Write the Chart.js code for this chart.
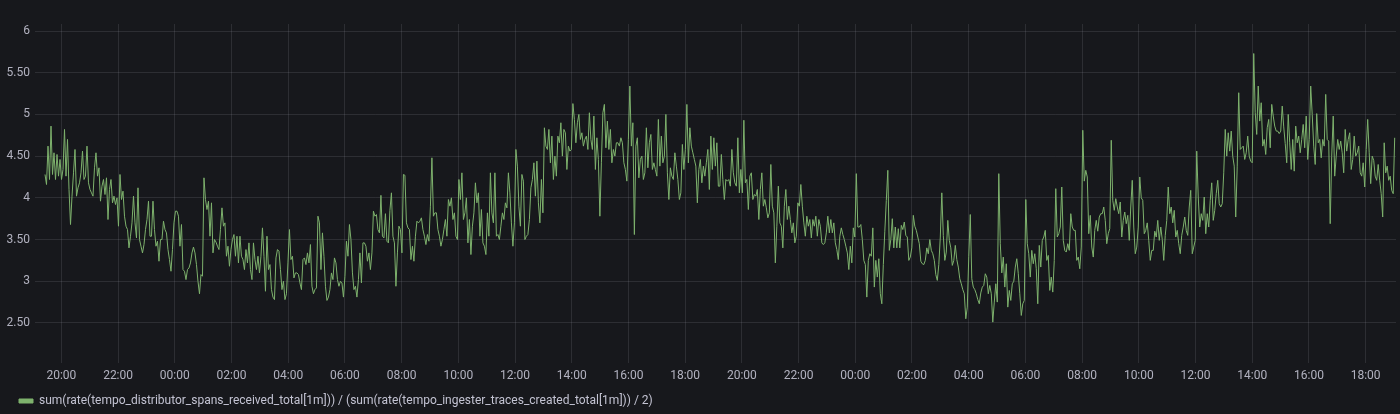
<!DOCTYPE html>
<html>
<head>
<meta charset="utf-8">
<script src="https://cdn.jsdelivr.net/npm/chart.js@4/dist/chart.umd.min.js"></script>
<style>
html,body{margin:0;padding:0;background:#17181c;}
#wrap{width:1400px;height:414px;position:relative;}
canvas{display:block;}
</style>
</head>
<body>
<div id="wrap"><canvas id="c" width="1400" height="414"></canvas></div>
<script>
// ---- data ----
const seriesLabel = 'sum(rate(tempo_distributor_spans_received_total[1m])) / (sum(rate(tempo_ingester_traces_created_total[1m])) / 2)';
// time axis in hours relative to 20:00 of the first day
const startHour = -0.577;
const stepHours = 0.05289;
const ratioValues = [
4.28,4.16,4.62,4.22,4.86,4.28,4.54,4.22,4.52,4.26,4.46,4.22,4.34,4.82,4.26,4.7,4.10,3.68,4.02,4.3,
4.58,4.02,4.12,4.18,4.3,4.56,4.22,4.26,4.62,4.18,4.1,4.06,4.02,4.36,4.54,4.26,4.36,3.96,4.14,
4.22,4.04,4.24,3.74,4.1,4.22,3.94,4.02,3.92,4.0,3.66,4.28,3.98,4.08,3.78,3.66,3.62,3.4,
3.54,3.7,4.02,3.7,3.52,4.12,3.5,3.42,3.34,3.44,3.62,3.74,3.96,3.54,3.54,3.96,3.62,3.42,3.48,
3.24,3.5,3.5,3.72,3.62,3.58,3.38,3.26,3.12,3.38,3.7,3.84,3.84,3.78,
3.42,3.68,3.14,3.12,3.02,3.14,3.16,3.22,3.34,3.41,3.34,3.2,3.0,2.85,3.08,3.06,4.24,3.98,3.86,3.96,
3.54,3.94,3.34,3.5,3.47,3.42,3.38,3.62,3.88,3.66,3.7,3.3,3.42,3.18,3.38,3.5,3.56,3.3,3.54,3.22,
3.54,3.3,3.26,3.14,3.38,3.22,3.46,3.14,3.02,3.46,3.26,3.14,3.3,3.1,3.3,3.64,3.3,2.88,3.54,3.14,
3.2,2.9,2.81,2.78,3.28,3.38,3.36,3.14,2.9,3.0,2.78,2.85,3.22,3.62,3.26,3.3,3.04,3.1,3.1,3.08,
2.98,2.9,3.26,3.28,3.2,3.34,3.22,3.44,2.94,2.85,
2.9,2.92,3.78,3.7,3.14,3.58,3.3,2.94,2.77,2.81,2.9,3.1,3.02,3.28,3.22,3.02,2.94,3.0,2.98,2.81,
3.06,3.48,3.3,3.68,3.5,3.1,2.9,2.94,2.81,3.02,3.34,2.98,3.46,3.46,3.42,3.24,3.34,3.14,3.34,3.84,
3.78,3.8,3.62,3.58,4.03,3.54,3.52,3.81,3.48,3.46,3.85,4.06,3.54,3.46,2.94,3.34,3.66,3.62,3.34,4.28,
4.27,3.7,3.64,3.62,3.26,3.42,3.24,3.54,3.72,3.7,3.72,3.76,3.62,3.54,3.44,3.56,3.48,3.9,4.48,3.78,
3.82,3.82,3.62,3.54,3.42,3.5,3.62,3.74,3.54,3.98,
3.9,4.0,3.74,3.82,3.54,3.5,4.22,3.98,4.3,3.74,3.82,4.0,3.46,3.74,3.32,3.66,3.82,4.18,3.94,4.06,
3.54,3.86,3.46,3.42,3.32,3.82,3.54,4.3,3.82,3.7,4.3,3.54,3.56,3.5,3.66,3.82,3.74,3.94,3.88,4.3,
4.06,3.7,3.42,3.7,4.58,4.38,3.9,3.66,4.28,4.2,3.5,3.54,3.56,3.74,4.12,4.22,4.42,4.02,4.44,3.94,
3.7,4.22,3.82,4.84,4.62,4.58,4.82,4.42,4.74,4.22,4.5,4.26,4.74,4.66,4.9,4.5,4.82,4.78,4.34,4.62,
4.56,4.58,5.13,4.94,4.66,4.9,5.0,4.7,4.78,4.62,
4.7,4.74,4.58,5.02,4.7,4.58,4.98,4.34,4.72,4.46,3.78,4.42,5.02,5.12,4.6,4.92,4.58,4.82,4.42,4.58,
4.5,4.66,4.66,4.62,4.72,4.66,4.42,4.34,4.2,4.7,5.34,4.62,4.9,3.56,4.62,4.72,4.24,4.46,4.5,4.22,
4.3,4.84,4.36,4.66,4.76,4.34,4.42,4.34,4.26,4.94,4.38,4.74,4.42,4.5,5.0,4.3,3.98,4.36,4.26,4.22,
4.54,4.38,4.22,3.98,4.06,4.64,4.34,4.58,5.12,4.42,4.84,4.62,4.54,4.46,4.38,3.94,4.34,4.46,4.18,4.38,
4.26,4.42,4.58,4.1,4.74,4.34,4.72,4.38,4.66,4.14,
4.14,4.52,4.22,3.98,4.22,4.2,4.22,4.14,4.58,4.3,4.18,4.14,4.72,4.06,4.34,4.06,4.93,4.18,4.22,3.86,
4.26,4.3,3.98,4.04,4.02,4.1,3.74,4.1,4.3,3.9,3.98,3.88,3.76,3.82,4.4,3.9,3.82,3.22,3.66,4.14,
3.7,3.66,3.4,3.9,4.1,3.74,3.9,3.74,3.58,3.7,3.46,3.54,3.94,3.9,4.16,3.9,3.7,3.54,3.78,3.66,
3.74,3.52,3.74,3.66,3.78,3.54,3.74,3.66,3.46,3.44,3.46,3.58,3.78,3.58,3.74,3.58,3.7,3.46,3.38,3.26,
3.54,3.64,3.56,3.5,3.42,3.34,3.14,3.42,3.22,3.64,
3.53,4.29,3.65,3.65,3.68,3.5,3.25,3.2,2.81,3.25,3.33,3.3,3.64,2.93,3.25,3.05,3.27,2.85,2.73,3.2,
3.6,3.97,4.33,3.37,3.5,3.75,3.4,3.65,3.4,3.63,3.4,3.67,3.62,3.71,3.55,3.53,3.25,3.29,3.4,3.79,
3.66,3.61,3.53,3.45,3.24,3.21,3.2,3.25,3.4,3.33,3.5,3.37,3.33,3.25,3.08,3.01,3.2,3.53,4.06,3.55,
3.25,3.35,3.73,3.49,3.4,3.19,3.25,3.43,3.26,3.17,3.03,2.97,2.9,2.85,2.55,2.69,3.3,3.8,3.03,2.93,
2.9,2.85,2.78,2.73,2.86,2.93,2.95,3.09,3.05,2.85,
2.95,2.85,2.51,2.75,2.97,2.75,4.29,3.45,3.1,3.29,2.93,3.21,2.69,2.89,2.77,2.97,3.0,3.17,3.27,3.09,
2.85,2.59,2.73,2.77,3.98,3.45,3.33,3.05,3.37,3.21,3.33,3.15,2.73,3.43,3.17,3.49,3.53,3.61,3.25,3.31,
2.89,3.05,2.87,3.25,4.11,3.53,3.57,3.65,4.13,3.49,3.37,3.35,3.45,3.37,3.81,3.65,3.61,3.61,3.25,3.29,
3.15,3.41,4.81,4.2,4.33,4.25,3.57,3.79,3.41,3.29,3.61,3.73,3.6,3.77,3.81,3.81,3.89,3.73,3.45,3.57,
3.63,4.69,3.97,3.85,3.99,3.89,3.81,3.95,3.53,3.73,
3.83,3.69,3.79,3.49,3.89,4.21,3.65,3.33,3.41,3.65,4.25,4.0,3.97,3.57,3.61,3.7,3.49,3.25,3.37,3.37,
3.6,3.53,3.73,3.49,3.65,3.5,3.25,3.55,3.73,4.13,3.81,3.89,3.7,3.85,3.53,3.61,3.45,3.33,3.55,3.65,
3.77,3.61,3.55,3.89,4.09,3.33,3.41,3.49,4.56,4.01,3.65,3.81,3.73,4.01,3.57,3.81,3.65,3.97,4.18,3.73,
3.85,4.05,4.21,3.93,3.89,3.93,4.3,4.82,4.5,4.78,4.56,4.8,4.5,4.38,3.77,4.38,5.26,4.58,4.6,4.62,
4.46,4.54,4.74,4.5,4.44,4.42,5.73,5.02,4.76,5.34,
4.92,5.14,4.62,4.7,4.52,4.84,4.94,4.6,5.12,4.98,4.86,4.8,4.8,4.77,4.8,5.1,4.85,4.65,4.42,5.0,
4.66,4.34,4.7,4.32,4.86,4.66,4.74,4.54,4.7,4.88,4.6,4.98,4.46,4.7,5.34,5.0,4.62,4.4,5.01,4.66,
4.7,4.48,4.7,4.62,5.24,4.7,4.68,3.69,4.5,4.98,4.26,4.5,4.7,4.58,4.68,4.54,4.3,4.82,4.56,4.7,
4.78,4.34,4.46,4.74,4.5,4.54,4.62,4.3,4.26,4.42,4.13,4.58,4.94,4.54,4.17,4.5,4.45,4.26,4.21,4.4,
4.21,4.05,3.77,4.66,4.3,4.38,4.21,4.26,4.09,4.05,4.72
];
const xTickHours = [0,2,4,6,8,10,12,14,16,18,20,22,24,26,28,30,32,34,36,38,40,42,44,46];
const xTickLabels = ['20:00','22:00','00:00','02:00','04:00','06:00','08:00','10:00','12:00','14:00','16:00','18:00',
                     '20:00','22:00','00:00','02:00','04:00','06:00','08:00','10:00','12:00','14:00','16:00','18:00'];
const yTickValues = [2.5,3,3.5,4,4.5,5,5.5,6];
const yTickLabels = ['2.50','3','3.50','4','4.50','5','5.50','6'];

// ---- chart ----
const points = ratioValues.map((v, i) => ({x: startHour + i * stepHours, y: v}));
const textColor = 'rgba(204,204,220,0.85)';
const gridColor = 'rgba(204,204,220,0.12)';
const fontFamily = 'Roboto, "Open Sans", sans-serif';

// nudge the legend row to match the panel's legend placement
const legendOffset = {
  id: 'legendOffset',
  afterLayout(chart) {
    const lg = chart.legend;
    if (lg) { lg.left += 9; lg.right += 9; lg.top += 3; lg.bottom += 3; }
  }
};

new Chart(document.getElementById('c'), {
  type: 'line',
  data: {
    datasets: [{
      label: seriesLabel,
      data: points,
      borderColor: '#7EB26D',
      backgroundColor: '#7EB26D',
      borderWidth: 1,
      pointRadius: 0,
      tension: 0,
      fill: false
    }]
  },
  options: {
    responsive: false,
    animation: false,
    devicePixelRatio: 1,
    layout: {padding: {top: 24, right: 4, left: 0, bottom: 0}},
    plugins: {
      tooltip: {enabled: false},
      legend: {
        position: 'bottom',
        align: 'start',
        labels: {
          boxWidth: 14,
          boxHeight: 4,
          color: 'rgba(204,204,220,0.95)',
          padding: 10,
          font: {family: fontFamily, size: 12}
        }
      }
    },
    scales: {
      x: {
        type: 'linear',
        min: -0.93,
        max: 47.07,
        afterBuildTicks: s => { s.ticks = xTickHours.map(v => ({value: v})); },
        afterFit: s => { s.height = 19; },
        ticks: {
          autoSkip: false,
          maxRotation: 0,
          padding: 6,
          color: textColor,
          font: {family: fontFamily, size: 12},
          callback: v => xTickLabels[xTickHours.indexOf(v)]
        },
        grid: {color: gridColor, drawTicks: false, lineWidth: 1},
        border: {display: false}
      },
      y: {
        min: 2.02,
        max: 6.084,
        afterBuildTicks: s => { s.ticks = yTickValues.map(v => ({value: v})); },
        afterFit: s => { s.width = 35; },
        ticks: {
          padding: 5,
          color: textColor,
          font: {family: fontFamily, size: 12},
          callback: v => yTickLabels[yTickValues.indexOf(v)]
        },
        grid: {color: gridColor, drawTicks: false, lineWidth: 1},
        border: {display: false}
      }
    }
  },
  plugins: [legendOffset]
});
</script>
</body>
</html>
